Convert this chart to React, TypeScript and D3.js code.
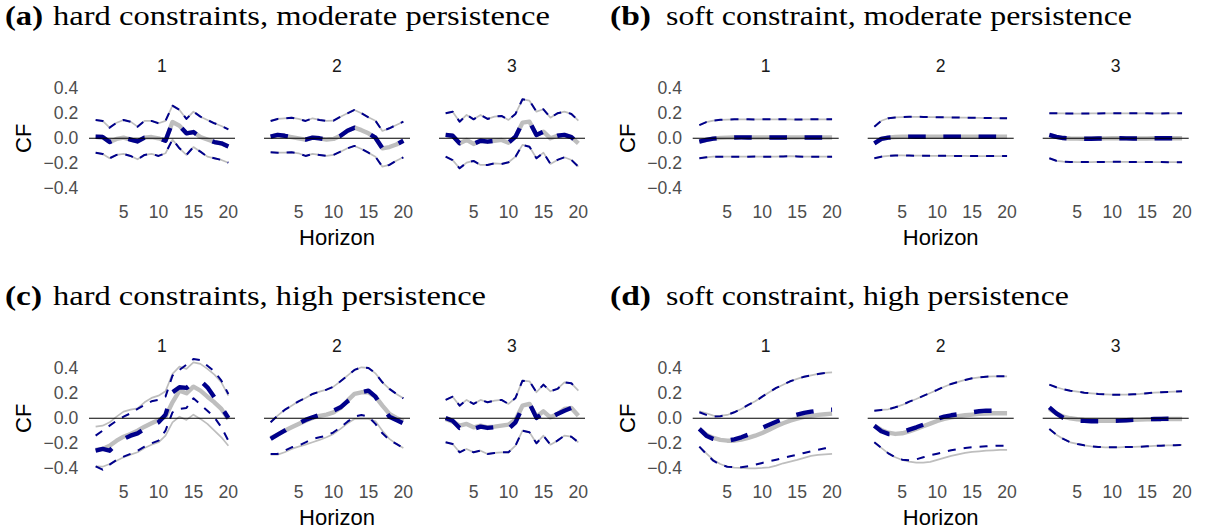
import React from "react";
import * as d3 from "d3";

// Forecast horizons on the x axis
const horizons = [1, 2, 3, 4, 5, 6, 7, 8, 9, 10, 11, 12, 13, 14, 15, 16, 17, 18, 19, 20];
const xTickValues = [5, 10, 15, 20];
const yTickValues = [-0.4, -0.2, 0, 0.2, 0.4];
const shockLabels = ["1", "2", "3"];
const panelTags = ["(a)", "(b)", "(c)", "(d)"];
const panelCaptions = [
  "hard constraints, moderate persistence",
  "soft constraint, moderate persistence",
  "hard constraints, high persistence",
  "soft constraint, high persistence",
];

// (a) hard constraints, moderate persistence
const a1Hi = [0.147, 0.139, 0.085, 0.125, 0.147, 0.133, 0.093, 0.139, 0.139, 0.12, 0.139, 0.261, 0.227, 0.155, 0.213, 0.173, 0.147, 0.12, 0.099, 0.072];
const a1Mid = [0.012, 0.01, -0.03, -0.005, 0.005, -0.01, -0.025, 0.005, 0.01, 0.0, -0.02, 0.13, 0.1, 0.04, 0.05, 0.01, -0.01, -0.03, -0.04, -0.065];
const a1Lo = [-0.115, -0.125, -0.16, -0.133, -0.125, -0.141, -0.168, -0.133, -0.125, -0.141, -0.12, -0.01, -0.08, -0.133, -0.07, -0.107, -0.147, -0.16, -0.173, -0.195];
const a2Hi = [0.139, 0.155, 0.16, 0.165, 0.155, 0.139, 0.16, 0.147, 0.139, 0.141, 0.173, 0.2, 0.227, 0.2, 0.168, 0.141, 0.059, 0.08, 0.107, 0.133];
const a2Mid = [0.013, 0.027, 0.02, 0.01, 0.0, -0.01, 0.005, 0.0, -0.01, -0.005, 0.02, 0.06, 0.085, 0.065, 0.04, 0.005, -0.08, -0.07, -0.05, -0.02];
const a2Lo = [-0.112, -0.115, -0.115, -0.112, -0.12, -0.141, -0.125, -0.133, -0.141, -0.133, -0.107, -0.08, -0.061, -0.085, -0.115, -0.147, -0.227, -0.213, -0.179, -0.152];
const a3Hi = [0.2, 0.213, 0.133, 0.187, 0.152, 0.187, 0.155, 0.173, 0.179, 0.147, 0.195, 0.312, 0.301, 0.213, 0.232, 0.165, 0.2, 0.213, 0.195, 0.141];
const a3Mid = [0.027, 0.02, -0.04, -0.013, -0.045, -0.02, -0.027, -0.02, -0.013, -0.035, 0.013, 0.125, 0.133, 0.027, 0.053, 0.0, 0.02, 0.027, 0.01, -0.04];
const a3Lo = [-0.147, -0.175, -0.24, -0.195, -0.181, -0.213, -0.213, -0.2, -0.205, -0.192, -0.147, -0.053, -0.067, -0.16, -0.115, -0.205, -0.173, -0.152, -0.173, -0.227];

// (b) soft constraint, moderate persistence
const b1Hi = [0.105, 0.13, 0.142, 0.148, 0.15, 0.152, 0.152, 0.152, 0.151, 0.152, 0.152, 0.152, 0.153, 0.152, 0.15, 0.151, 0.152, 0.152, 0.152, 0.152];
const b1Mid = [-0.027, -0.013, -0.003, 0.003, 0.005, 0.006, 0.007, 0.007, 0.006, 0.006, 0.007, 0.007, 0.007, 0.006, 0.006, 0.007, 0.007, 0.006, 0.006, 0.006];
const b1Lo = [-0.16, -0.152, -0.147, -0.147, -0.147, -0.147, -0.147, -0.147, -0.146, -0.147, -0.147, -0.146, -0.145, -0.143, -0.145, -0.147, -0.147, -0.147, -0.147, -0.147];
const b2Hi = [0.093, 0.14, 0.16, 0.167, 0.17, 0.172, 0.172, 0.171, 0.17, 0.169, 0.168, 0.167, 0.166, 0.165, 0.164, 0.163, 0.162, 0.162, 0.161, 0.16];
const b2Mid = [-0.04, -0.005, 0.005, 0.01, 0.012, 0.013, 0.013, 0.013, 0.013, 0.013, 0.013, 0.013, 0.013, 0.013, 0.013, 0.012, 0.012, 0.012, 0.012, 0.012];
const b2Lo = [-0.16, -0.147, -0.14, -0.137, -0.137, -0.138, -0.139, -0.139, -0.14, -0.14, -0.14, -0.141, -0.141, -0.141, -0.142, -0.142, -0.142, -0.142, -0.142, -0.142];
const b3Hi = [0.2, 0.2, 0.199, 0.198, 0.198, 0.198, 0.199, 0.199, 0.2, 0.2, 0.2, 0.2, 0.2, 0.2, 0.2, 0.199, 0.199, 0.2, 0.2, 0.2];
const b3Mid = [0.027, 0.012, 0.002, -0.002, -0.003, -0.003, -0.003, -0.002, -0.001, 0.0, 0.0, -0.001, -0.001, -0.001, -0.001, 0.0, 0.0, 0.0, 0.0, 0.0];
const b3Lo = [-0.16, -0.18, -0.187, -0.189, -0.19, -0.19, -0.19, -0.189, -0.189, -0.188, -0.188, -0.189, -0.19, -0.19, -0.19, -0.19, -0.19, -0.191, -0.191, -0.191];

// (c) hard constraints, high persistence
const c1Hi = [-0.067, -0.059, -0.032, 0.013, 0.053, 0.069, 0.08, 0.128, 0.163, 0.181, 0.216, 0.355, 0.413, 0.395, 0.448, 0.435, 0.395, 0.349, 0.288, 0.181];
const c1Mid = [-0.253, -0.245, -0.219, -0.179, -0.147, -0.125, -0.099, -0.067, -0.04, -0.013, 0.013, 0.128, 0.221, 0.2, 0.253, 0.221, 0.173, 0.128, 0.075, -0.005];
const c1Lo = [-0.384, -0.387, -0.365, -0.339, -0.312, -0.291, -0.272, -0.237, -0.211, -0.192, -0.139, -0.032, 0.013, -0.013, 0.029, -0.005, -0.045, -0.099, -0.152, -0.219];
const c1EstHi = [-0.139, -0.099, -0.059, -0.019, 0.013, 0.04, 0.075, 0.107, 0.136, 0.147, 0.173, 0.341, 0.387, 0.429, 0.475, 0.465, 0.42, 0.375, 0.301, 0.195];
const c1EstMid = [-0.259, -0.245, -0.259, -0.205, -0.165, -0.139, -0.12, -0.085, -0.059, -0.032, 0.029, 0.208, 0.248, 0.243, 0.288, 0.3, 0.248, 0.168, 0.088, 0.003];
const c1EstLo = [-0.384, -0.411, -0.371, -0.333, -0.307, -0.285, -0.259, -0.227, -0.2, -0.179, -0.099, 0.048, 0.075, 0.083, 0.16, 0.11, 0.061, 0.008, -0.072, -0.179];
const c2Hi = [-0.032, 0.021, 0.067, 0.101, 0.136, 0.163, 0.195, 0.213, 0.229, 0.253, 0.296, 0.341, 0.387, 0.408, 0.403, 0.36, 0.288, 0.235, 0.195, 0.16];
const c2Mid = [-0.157, -0.131, -0.099, -0.072, -0.045, -0.019, 0.003, 0.019, 0.029, 0.048, 0.083, 0.141, 0.195, 0.208, 0.208, 0.173, 0.101, 0.035, 0.003, -0.024];
const c2Lo = [-0.291, -0.291, -0.272, -0.245, -0.227, -0.211, -0.192, -0.173, -0.152, -0.125, -0.085, -0.04, -0.005, -0.005, -0.005, -0.024, -0.099, -0.165, -0.205, -0.237];
const c2EstMid = [-0.165, -0.131, -0.099, -0.059, -0.04, -0.013, 0.008, 0.027, 0.04, 0.061, 0.088, 0.136, 0.173, 0.208, 0.221, 0.173, 0.088, 0.013, -0.013, -0.04];
const c2EstLo = [-0.285, -0.285, -0.259, -0.232, -0.219, -0.192, -0.165, -0.152, -0.139, -0.112, -0.072, -0.027, 0.013, 0.027, 0.013, -0.045, -0.12, -0.173, -0.205, -0.237];
const c3Hi = [0.147, 0.173, 0.101, 0.147, 0.115, 0.147, 0.128, 0.141, 0.147, 0.115, 0.163, 0.301, 0.296, 0.208, 0.269, 0.216, 0.235, 0.288, 0.28, 0.221];
const c3Mid = [-0.005, -0.027, -0.059, -0.045, -0.072, -0.059, -0.072, -0.067, -0.059, -0.051, -0.013, 0.101, 0.115, 0.013, 0.056, 0.008, 0.035, 0.075, 0.083, 0.021];
const c3Lo = [-0.192, -0.205, -0.272, -0.245, -0.272, -0.259, -0.285, -0.277, -0.272, -0.272, -0.219, -0.099, -0.112, -0.2, -0.139, -0.211, -0.179, -0.139, -0.147, -0.192];
const c3EstMid = [0.003, -0.019, -0.077, -0.059, -0.085, -0.067, -0.077, -0.072, -0.072, -0.085, -0.032, 0.088, 0.12, 0.003, 0.04, 0.003, 0.035, 0.061, 0.083, 0.013];

// (d) soft constraint, high persistence
const d1Hi = [0.056, 0.04, 0.021, 0.019, 0.027, 0.048, 0.075, 0.107, 0.136, 0.173, 0.208, 0.243, 0.269, 0.296, 0.315, 0.333, 0.344, 0.355, 0.363, 0.368];
const d1Mid = [-0.085, -0.131, -0.157, -0.173, -0.179, -0.179, -0.171, -0.157, -0.139, -0.117, -0.091, -0.064, -0.04, -0.019, -0.003, 0.011, 0.019, 0.027, 0.032, 0.037];
const d1Lo = [-0.227, -0.28, -0.333, -0.365, -0.387, -0.395, -0.397, -0.4, -0.4, -0.397, -0.392, -0.379, -0.36, -0.347, -0.333, -0.317, -0.301, -0.293, -0.288, -0.285];
const d1EstHi = [0.048, 0.027, 0.013, 0.016, 0.027, 0.048, 0.075, 0.107, 0.136, 0.173, 0.208, 0.243, 0.269, 0.296, 0.315, 0.333, 0.344, 0.355, 0.363, 0.368];
const d1EstMid = [-0.085, -0.139, -0.165, -0.179, -0.179, -0.168, -0.152, -0.131, -0.104, -0.077, -0.051, -0.027, -0.005, 0.013, 0.029, 0.043, 0.053, 0.061, 0.067, 0.069];
const d1EstLo = [-0.227, -0.285, -0.339, -0.371, -0.387, -0.392, -0.392, -0.384, -0.371, -0.357, -0.344, -0.331, -0.317, -0.304, -0.291, -0.277, -0.264, -0.251, -0.24, -0.232];
const d2Hi = [0.061, 0.067, 0.072, 0.088, 0.107, 0.133, 0.155, 0.179, 0.203, 0.227, 0.253, 0.275, 0.291, 0.307, 0.32, 0.328, 0.333, 0.336, 0.336, 0.336];
const d2Mid = [-0.059, -0.093, -0.115, -0.125, -0.12, -0.104, -0.085, -0.064, -0.043, -0.021, -0.005, 0.008, 0.016, 0.024, 0.029, 0.035, 0.037, 0.04, 0.04, 0.04];
const d2Lo = [-0.192, -0.237, -0.28, -0.312, -0.333, -0.347, -0.355, -0.355, -0.349, -0.333, -0.317, -0.301, -0.288, -0.277, -0.269, -0.264, -0.259, -0.256, -0.253, -0.253];
const d2EstMid = [-0.059, -0.104, -0.125, -0.125, -0.112, -0.091, -0.072, -0.051, -0.024, -0.003, 0.013, 0.024, 0.032, 0.04, 0.048, 0.056, 0.061, 0.061, 0.059, 0.053];
const d2EstLo = [-0.192, -0.237, -0.28, -0.312, -0.331, -0.336, -0.328, -0.312, -0.296, -0.283, -0.269, -0.256, -0.245, -0.237, -0.232, -0.227, -0.224, -0.221, -0.219, -0.219];
const d3Hi = [0.269, 0.248, 0.232, 0.221, 0.213, 0.205, 0.2, 0.195, 0.192, 0.189, 0.189, 0.189, 0.192, 0.195, 0.2, 0.205, 0.208, 0.211, 0.213, 0.216];
const d3Mid = [0.075, 0.04, 0.013, 0.0, -0.008, -0.013, -0.016, -0.019, -0.019, -0.019, -0.019, -0.016, -0.013, -0.011, -0.008, -0.008, -0.005, -0.005, -0.005, -0.005];
const d3Lo = [-0.085, -0.131, -0.165, -0.192, -0.205, -0.216, -0.224, -0.229, -0.232, -0.232, -0.232, -0.229, -0.229, -0.227, -0.224, -0.221, -0.219, -0.216, -0.216, -0.213];
const d3EstMid = [0.088, 0.04, 0.003, -0.013, -0.019, -0.021, -0.024, -0.024, -0.024, -0.021, -0.019, -0.016, -0.013, -0.011, -0.008, -0.005, -0.005, -0.003, -0.003, 0.0];

type Band = { lo: number[]; mid: number[]; hi: number[] };
type Facet = { truth: Band; est: Band };

// Each panel: three shocks, true band (grey) and estimated band (navy, dashed)
const panels: Facet[][] = [
  [
    { truth: { lo: a1Lo, mid: a1Mid, hi: a1Hi }, est: { lo: a1Lo, mid: a1Mid, hi: a1Hi } },
    { truth: { lo: a2Lo, mid: a2Mid, hi: a2Hi }, est: { lo: a2Lo, mid: a2Mid, hi: a2Hi } },
    { truth: { lo: a3Lo, mid: a3Mid, hi: a3Hi }, est: { lo: a3Lo, mid: a3Mid, hi: a3Hi } },
  ],
  [
    { truth: { lo: b1Lo, mid: b1Mid, hi: b1Hi }, est: { lo: b1Lo, mid: b1Mid, hi: b1Hi } },
    { truth: { lo: b2Lo, mid: b2Mid, hi: b2Hi }, est: { lo: b2Lo, mid: b2Mid, hi: b2Hi } },
    { truth: { lo: b3Lo, mid: b3Mid, hi: b3Hi }, est: { lo: b3Lo, mid: b3Mid, hi: b3Hi } },
  ],
  [
    { truth: { lo: c1Lo, mid: c1Mid, hi: c1Hi }, est: { lo: c1EstLo, mid: c1EstMid, hi: c1EstHi } },
    { truth: { lo: c2Lo, mid: c2Mid, hi: c2Hi }, est: { lo: c2EstLo, mid: c2EstMid, hi: c2Hi } },
    { truth: { lo: c3Lo, mid: c3Mid, hi: c3Hi }, est: { lo: c3Lo, mid: c3EstMid, hi: c3Hi } },
  ],
  [
    { truth: { lo: d1Lo, mid: d1Mid, hi: d1Hi }, est: { lo: d1EstLo, mid: d1EstMid, hi: d1EstHi } },
    { truth: { lo: d2Lo, mid: d2Mid, hi: d2Hi }, est: { lo: d2EstLo, mid: d2EstMid, hi: d2Hi } },
    { truth: { lo: d3Lo, mid: d3Mid, hi: d3Hi }, est: { lo: d3Lo, mid: d3EstMid, hi: d3Hi } },
  ],
];

const W = 1207;
const H = 530;
const COL_OFFSET = 603.7;
const ROW_OFFSET = 280;
const FACET_LEFT = 89;
const FACET_STEP = 175;
const FACET_W = 146;
const ZERO_Y = 138.3;
const HALF_H = 55;

const SANS = "'Liberation Sans', Arial, Helvetica, sans-serif";
const SERIF = "'Liberation Serif', 'Times New Roman', serif";
const GREY = "#BEBEBE";
const NAVY = "#00008B";

const captionWidths = [497, 466, 433, 403];
const tagWidths = [38, 41, 37, 41];

const fmt = (v: number) => (v < 0 ? "\u2212" : "") + Math.abs(v).toFixed(1);

export default function App() {
  const x = d3.scaleLinear().domain([0.05, 20.95]).range([0, FACET_W]);
  const y = d3.scaleLinear().domain([-0.44, 0.44]).range([ZERO_Y + HALF_H, ZERO_Y - HALF_H]);
  const line = d3
    .line<number>()
    .x((_, i) => x(horizons[i]))
    .y((v) => y(v));

  return (
    <svg
      width={W}
      height={H}
      viewBox={`0 0 ${W} ${H}`}
      style={{ position: "absolute", left: 0, top: 0, display: "block", background: "#fff" }}
    >
      <rect width={W} height={H} fill="#fff" />
      {panels.map((facets, p) => {
        const col = p % 2;
        const row = Math.floor(p / 2);
        const ox = col * COL_OFFSET;
        const oy = row * ROW_OFFSET;
        const tagX = col === 0 ? 5 : 610;
        const capX = col === 0 ? 53 : 666;
        return (
          <g key={p} transform={`translate(0,${oy})`}>
            <text
              x={tagX}
              y={24.5}
              fontFamily={SERIF}
              fontSize={27}
              fontWeight="bold"
              fill="#000"
              textLength={tagWidths[p]}
              lengthAdjust="spacingAndGlyphs"
            >
              {panelTags[p]}
            </text>
            <text
              x={capX}
              y={24.5}
              fontFamily={SERIF}
              fontSize={27}
              fill="#000"
              textLength={captionWidths[p]}
              lengthAdjust="spacingAndGlyphs"
            >
              {panelCaptions[p]}
            </text>
            <g transform={`translate(${ox},0)`}>
              {/* y axis title */}
              <text
                transform={`translate(31.2,${ZERO_Y}) rotate(-90)`}
                textAnchor="middle"
                fontFamily={SANS}
                fontSize={22}
                fill="#000"
              >
                CF
              </text>
              {/* y tick labels */}
              {yTickValues.map((t) => (
                <text
                  key={t}
                  x={FACET_LEFT - 10.7}
                  y={y(t)}
                  dy="0.35em"
                  textAnchor="end"
                  fontFamily={SANS}
                  fontSize={17.6}
                  fill="#4D4D4D"
                >
                  {fmt(t)}
                </text>
              ))}
              {/* x axis title under the middle facet */}
              <text
                x={FACET_LEFT + FACET_STEP + FACET_W / 2}
                y={244.5}
                textAnchor="middle"
                fontFamily={SANS}
                fontSize={22}
                fill="#000"
              >
                Horizon
              </text>
              {facets.map((f, s) => {
                const fx = FACET_LEFT + s * FACET_STEP;
                return (
                  <g key={s} transform={`translate(${fx},0)`}>
                    <text
                      x={FACET_W / 2}
                      y={72}
                      textAnchor="middle"
                      fontFamily={SANS}
                      fontSize={17.6}
                      fill="#1A1A1A"
                    >
                      {shockLabels[s]}
                    </text>
                    {xTickValues.map((t) => (
                      <text
                        key={t}
                        x={x(t)}
                        y={218}
                        textAnchor="middle"
                        fontFamily={SANS}
                        fontSize={17.6}
                        fill="#4D4D4D"
                      >
                        {t}
                      </text>
                    ))}
                    <g fill="none" strokeLinejoin="round" strokeLinecap="butt">
                      <path d={line(f.truth.lo) || ""} stroke={GREY} strokeWidth={1.7} />
                      <path d={line(f.truth.hi) || ""} stroke={GREY} strokeWidth={1.7} />
                      <path d={line(f.truth.mid) || ""} stroke={GREY} strokeWidth={4.4} />
                      <path d={line(f.est.lo) || ""} stroke={NAVY} strokeWidth={2} strokeDasharray="8 8" />
                      <path d={line(f.est.hi) || ""} stroke={NAVY} strokeWidth={2} strokeDasharray="8 8" />
                      <path d={line(f.est.mid) || ""} stroke={NAVY} strokeWidth={4.4} strokeDasharray="17.6 17.6" />
                    </g>
                    <line x1={0} x2={FACET_W} y1={y(0)} y2={y(0)} stroke="#000" strokeWidth={1.1} />
                  </g>
                );
              })}
            </g>
          </g>
        );
      })}
    </svg>
  );
}
